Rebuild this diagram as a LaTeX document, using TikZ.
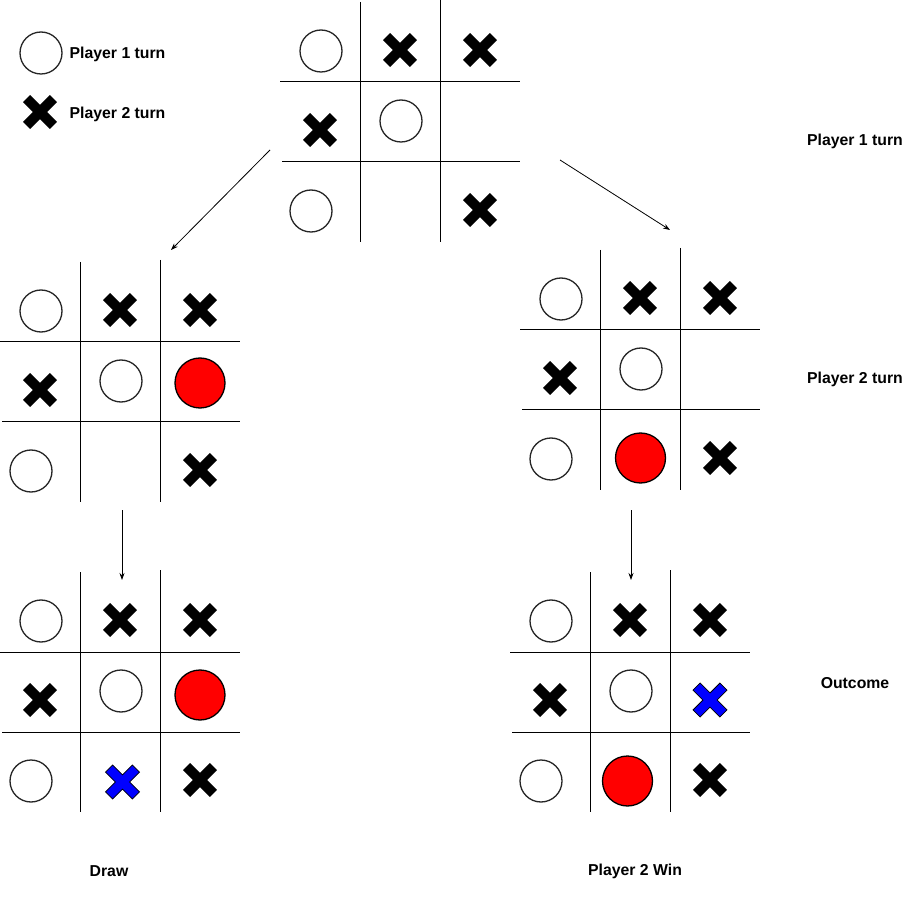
\documentclass[tikz,border=0pt]{standalone}
\usepackage{fontspec}
\setmainfont{Liberation Sans}
\usetikzlibrary{arrows.meta}
\tikzset{
  gridline/.style={line width=1pt, black},
  ocircle/.style={draw=black!85, line width=1.3pt, fill=white},
  redcircle/.style={draw=black, line width=1.3pt, fill=red},
  lbl/.style={font=\bfseries\fontsize{15.8}{19}\selectfont, inner sep=0pt},
  conn/.style={line width=0.8pt, black, -{Stealth[length=7pt,width=5pt]}},
  xmark/.pic={\path[pic actions, rotate=45] (5,19) -- (-5,19) -- (-5,5) -- (-19,5) -- (-19,-5) -- (-5,-5) -- (-5,-19) -- (5,-19) -- (5,-5) -- (19,-5) -- (19,5) -- (5,5) -- cycle;},
  blackx/.style={fill=black},
  bluex/.style={fill=blue, draw=black, line width=0.8pt},
}
\newcommand{\boardbase}{%
  \draw[gridline] (80,2) -- (80,242);
  \draw[gridline] (160,0) -- (160,242);
  \draw[gridline] (0,82) -- (240,82);
  \draw[gridline] (2,162) -- (240,162);
  \draw[ocircle] (41,51) circle[radius=21pt];
  \pic[blackx] at (120,50) {xmark};
  \pic[blackx] at (200,50) {xmark};
  \pic[blackx] at (40,130) {xmark};
  \draw[ocircle] (121,121) circle[radius=21pt];
  \draw[ocircle] (31,211) circle[radius=21pt];
  \pic[blackx] at (200,210) {xmark};
}
\begin{document}
\begin{tikzpicture}[x=1pt,y=-1pt]
\fill[white] (0,0) rectangle (911,901);
\useasboundingbox (0,0) rectangle (911,901);

% legend
\draw[ocircle] (41,53) circle[radius=21pt];
\pic[blackx] at (40,112) {xmark};
\node[lbl, anchor=west] (leg1) at (69.5,54.5) {Player 1 turn};
\node[lbl, anchor=west] (leg2) at (69.5,114.5) {Player 2 turn};

% top board
\begin{scope}[shift={(280,0)}]
  \boardbase
\end{scope}

% middle-left board
\begin{scope}[shift={(0,260)}]
  \boardbase
  \draw[redcircle] (200,123) circle[radius=25pt];
\end{scope}

% middle-right board
\begin{scope}[shift={(520,248)}]
  \boardbase
  \draw[redcircle] (120.5,210) circle[radius=25pt];
\end{scope}

% bottom-left board
\begin{scope}[shift={(0,570)}]
  \boardbase
  \draw[redcircle] (200,125) circle[radius=25pt];
  \pic[bluex] at (122.5,212) {xmark};
\end{scope}

% bottom-right board
\begin{scope}[shift={(510,570)}]
  \boardbase
  \draw[redcircle] (117.5,211) circle[radius=25pt];
  \pic[bluex] at (200,130) {xmark};
\end{scope}

% arrows
\coordinate (a1s) at (270,150);
\coordinate (a1e) at (171,250);
\coordinate (a2s) at (560,160);
\coordinate (a2e) at (670,230);
\coordinate (a3s) at (122,510);
\coordinate (a3e) at (122,580);
\coordinate (a4s) at (631,510);
\coordinate (a4e) at (631,580);
\draw[conn] (a1s) -- (a1e);
\draw[conn] (a2s) -- (a2e);
\draw[conn] (a3s) -- (a3e);
\draw[conn] (a4s) -- (a4e);

% labels
\node[lbl] (l1) at (855,141.5) {Player 1 turn};
\node[lbl] (l2) at (855,379.5) {Player 2 turn};
\node[lbl] (l3) at (855,683.5) {Outcome};
\node[lbl] (l4) at (109,871.5) {Draw};
\node[lbl] (l5) at (635,871.5) {Player 2 Win};
\end{tikzpicture}
\end{document}
